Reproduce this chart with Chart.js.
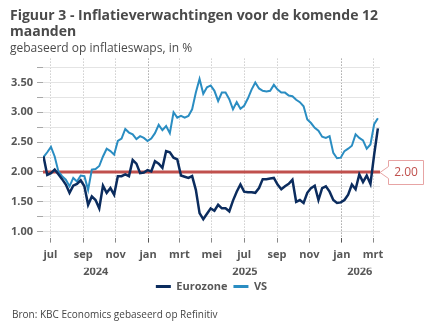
<!DOCTYPE html>
<html>
<head>
<meta charset="utf-8">
<script src="https://cdn.jsdelivr.net/npm/chart.js@4.4.1/dist/chart.umd.min.js"></script>
<style>
  html, body { margin: 0; padding: 0; background: #fff; }
</style>
</head>
<body>
<canvas id="chart" width="432" height="334"></canvas>
<script>
// wekelijkse waarnemingen vanaf 18 juni 2024
const startDate = '2024-06-18';
const stepDays = 7;

const eurozone = [
  2.26, 1.95, 1.98, 2.04, 1.96, 1.88, 1.79, 1.65, 1.77, 1.80,
  1.86, 1.76, 1.45, 1.59, 1.53, 1.39, 1.77, 1.65, 1.73, 1.62,
  1.93, 1.93, 1.96, 1.93, 2.20, 2.14, 1.98, 1.99, 2.03, 2.01,
  2.18, 2.14, 2.07, 2.35, 2.33, 2.24, 2.21, 1.94, 1.92, 1.90,
  1.93, 1.70, 1.31, 1.21, 1.30, 1.39, 1.35, 1.45, 1.39, 1.39,
  1.34, 1.52, 1.67, 1.79, 1.67, 1.66, 1.66, 1.65, 1.73, 1.88,
  1.88, 1.89, 1.90, 1.79, 1.71, 1.76, 1.80, 1.87, 1.50, 1.53,
  1.48, 1.65, 1.73, 1.77, 1.53, 1.73, 1.76, 1.67, 1.53, 1.48,
  1.49, 1.53, 1.62, 1.79, 1.71, 1.96, 1.83, 1.94, 1.80, 2.29,
  2.73
];

const vs = [
  2.25, 2.33, 2.42, 2.26, 2.01, 1.93, 1.87, 1.76, 1.90, 1.84,
  1.94, 1.93, 1.70, 2.04, 2.05, 2.10, 2.26, 2.39, 2.35, 2.29,
  2.52, 2.56, 2.72, 2.66, 2.63, 2.55, 2.60, 2.57, 2.52, 2.56,
  2.65, 2.79, 2.70, 2.77, 2.65, 3.00, 2.91, 2.94, 2.91, 2.94,
  3.05, 3.33, 3.56, 3.31, 3.42, 3.45, 3.36, 3.19, 3.33, 3.33,
  3.22, 3.05, 3.17, 3.06, 3.11, 3.23, 3.38, 3.50, 3.40, 3.36,
  3.35, 3.36, 3.46, 3.38, 3.33, 3.33, 3.28, 3.27, 3.21, 3.17,
  3.10, 2.88, 2.82, 2.74, 2.69, 2.59, 2.57, 2.60, 2.32, 2.23,
  2.24, 2.35, 2.39, 2.44, 2.63, 2.57, 2.53, 2.39, 2.46, 2.80,
  2.90
];

const target = 2.00;

const monthLabels = ['jul', 'sep', 'nov', 'jan', 'mrt', 'mei', 'jul', 'sep', 'nov', 'jan', 'mrt'];
const monthDates = ['2024-07-01', '2024-09-01', '2024-11-01', '2025-01-01', '2025-03-01', '2025-05-01',
                    '2025-07-01', '2025-09-01', '2025-11-01', '2026-01-01', '2026-03-01'];
const yearLabels = ['2024', '2025', '2026'];

const yTicks = [1.00, 1.25, 1.50, 1.75, 2.00, 2.25, 2.50, 2.75, 3.00, 3.25, 3.50, 3.75];
const yTickLabels = ['1.00', '', '1.50', '', '2.00', '', '2.50', '', '3.00', '', '3.50', ''];

const FONT = '"Open Sans", "Noto Sans", sans-serif';
const TXT = '#575757';

// dagen t.o.v. de eerste maandtick
const dayOf = (s) => (Date.parse(s) - Date.parse(monthDates[0])) / 86400000;
const firstDay = dayOf(startDate);
const lastDay = firstDay + (eurozone.length - 1) * stepDays;
const monthDays = monthDates.map(dayOf);
const yearCenters = yearLabels.map(y => {
  const lo = Math.max(dayOf(y + '-01-01'), firstDay);
  const hi = Math.min(dayOf((+y + 1) + '-01-01'), lastDay);
  return (lo + hi) / 2;
});
const xMin = dayOf('2024-06-17');
const xMax = dayOf('2026-03-14');

const toPoints = (arr) => arr.map((v, i) => ({ x: firstDay + i * stepDays, y: v }));

// label "2.00" naast de rode lijn
const calloutPlugin = {
  id: 'callout',
  afterDraw(chart) {
    const { ctx, chartArea, scales } = chart;
    const y = Math.round(scales.y.getPixelForValue(target)) + 0.5;
    const tip = chartArea.right;
    const left = tip + 8.5, right = left + 35, top = y - 12, bottom = y + 12;
    ctx.save();
    ctx.beginPath();
    ctx.moveTo(tip, y);
    ctx.lineTo(left, y - 6);
    ctx.lineTo(left, top);
    ctx.lineTo(right, top);
    ctx.lineTo(right, bottom);
    ctx.lineTo(left, bottom);
    ctx.lineTo(left, y + 6);
    ctx.closePath();
    ctx.fillStyle = '#fff';
    ctx.fill();
    ctx.strokeStyle = '#e7a4a4';
    ctx.lineWidth = 1;
    ctx.stroke();
    ctx.fillStyle = '#c0504d';
    ctx.font = '12px ' + FONT;
    ctx.textAlign = 'center';
    ctx.textBaseline = 'middle';
    ctx.fillText(target.toFixed(2), (left + right) / 2, y + 0.5);
    ctx.restore();
  }
};

// bronvermelding onderaan
const sourcePlugin = {
  id: 'source',
  afterDraw(chart) {
    const ctx = chart.ctx;
    ctx.save();
    ctx.fillStyle = '#444';
    ctx.font = '10px ' + FONT;
    ctx.textBaseline = 'middle';
    ctx.fillText('Bron: KBC Economics gebaseerd op Refinitiv', 12, 315);
    ctx.restore();
  }
};

const legendDefaults = Chart.defaults.plugins.legend.labels.generateLabels;

new Chart(document.getElementById('chart'), {
  type: 'line',
  data: {
    datasets: [
      {
        label: 'Eurozone',
        data: toPoints(eurozone),
        borderColor: '#0b2c5e',
        backgroundColor: '#0b2c5e',
        borderWidth: 2.5
      },
      {
        label: 'VS',
        data: toPoints(vs),
        borderColor: '#2a8dc2',
        backgroundColor: '#2a8dc2',
        borderWidth: 2
      },
      {
        label: 'doel',
        data: [{ x: xMin, y: target }, { x: xMax, y: target }],
        borderColor: '#c0504d',
        borderWidth: 3,
        order: 1
      }
    ]
  },
  options: {
    responsive: false,
    animation: false,
    parsing: false,
    elements: { point: { radius: 0 }, line: { tension: 0 } },
    layout: { padding: { left: 10, right: 52, top: 0, bottom: 32 } },
    plugins: {
      tooltip: { enabled: false },
      title: {
        display: true,
        align: 'start',
        text: ['Figuur 3 - Inflatieverwachtingen voor de komende 12', 'maanden'],
        color: '#4a4a4a',
        font: { family: FONT, size: 14, weight: 'bold', lineHeight: 1.15 },
        padding: { top: 8, bottom: 0 }
      },
      subtitle: {
        display: true,
        align: 'start',
        text: 'gebaseerd op inflatieswaps, in %',
        color: '#4a4a4a',
        font: { family: FONT, size: 12, lineHeight: 1.2 },
        padding: { top: 1, bottom: 3 }
      },
      legend: {
        position: 'bottom',
        fullSize: false,
        labels: {
          boxWidth: 15,
          boxHeight: 3,
          padding: 6,
          color: TXT,
          font: { family: FONT, size: 11, weight: 'bold' },
          filter: (item) => item.datasetIndex !== 2,
          generateLabels: (chart) => legendDefaults(chart).map(l => Object.assign(l, { lineWidth: 0, fillStyle: l.strokeStyle }))
        }
      }
    },
    scales: {
      x: {
        type: 'linear',
        position: 'bottom',
        weight: 0,
        min: xMin,
        max: xMax,
        afterBuildTicks: (s) => { s.ticks = monthDays.map(v => ({ value: v })); },
        ticks: {
          autoSkip: false,
          maxRotation: 0,
          padding: 6,
          color: TXT,
          font: { family: FONT, size: 11, weight: 'bold' },
          callback: (v, i) => monthLabels[i]
        },
        grid: {
          color: (c) => monthLabels[c.index] === 'jan' ? '#7d7d7d' : '#b5b5b5',
          tickColor: (c) => monthLabels[c.index] === 'jan' ? '#555' : '#888',
          tickLength: 5
        },
        border: { display: false, dash: [1, 2] }
      },
      x2: {
        type: 'linear',
        position: 'bottom',
        weight: 1,
        min: xMin,
        max: xMax,
        afterBuildTicks: (s) => { s.ticks = yearCenters.map(v => ({ value: v })); },
        ticks: {
          autoSkip: false,
          maxRotation: 0,
          padding: -3,
          color: TXT,
          font: { family: FONT, size: 11, weight: 'bold' },
          callback: (v, i) => yearLabels[i]
        },
        grid: { display: false, drawTicks: false },
        border: { display: false }
      },
      y: {
        min: 0.9,
        max: 3.9,
        afterBuildTicks: (s) => { s.ticks = yTicks.map(v => ({ value: v })); },
        afterFit: (s) => { s.width = 33; },
        ticks: {
          padding: 4,
          color: TXT,
          font: { family: FONT, size: 11, weight: 'bold' },
          callback: (v, i) => yTickLabels[i]
        },
        grid: { color: '#e4e4e4', tickColor: '#a8a8a8', tickLength: 6 },
        border: { display: false }
      }
    }
  },
  plugins: [calloutPlugin, sourcePlugin]
});
</script>
</body>
</html>
